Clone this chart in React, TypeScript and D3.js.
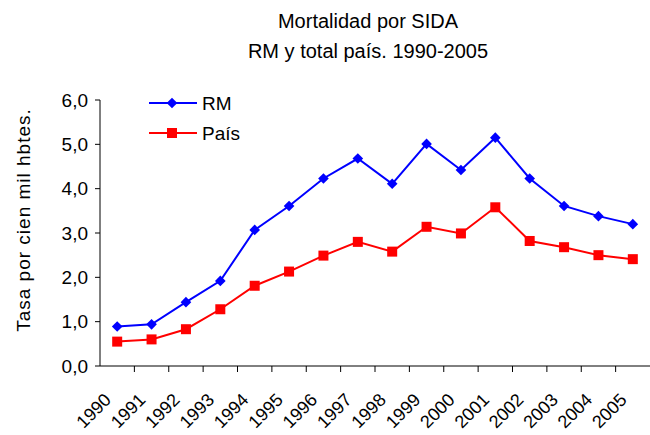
import * as d3 from "d3";
import React from "react";

const years = ["1990", "1991", "1992", "1993", "1994", "1995", "1996", "1997", "1998", "1999", "2000", "2001", "2002", "2003", "2004", "2005"]
const rm = [0.89, 0.94, 1.44, 1.92, 3.07, 3.61, 4.23, 4.68, 4.11, 5.01, 4.42, 5.15, 4.23, 3.61, 3.38, 3.2]
const pais = [0.55, 0.6, 0.83, 1.28, 1.81, 2.13, 2.49, 2.8, 2.58, 3.14, 2.99, 3.58, 2.82, 2.68, 2.5, 2.41]
const yTicks = [0, 1, 2, 3, 4, 5, 6]

const W = 650
const H = 435
const font = "'Liberation Sans', Arial, sans-serif"

export function App() {
  const x = d3.scaleBand().domain(years).range([100, 650])
  const y = d3.scaleLinear().domain([0, 6]).range([366, 100])
  const cx = (yr: string) => (x(yr) as number) + x.bandwidth() / 2

  const line = d3.line<number>()
    .x((d, i) => cx(years[i]))
    .y(d => y(d))

  const fmt = (v: number) => d3.format(".1f")(v).replace(".", ",")
  const diamond = d3.symbol().type(d3.symbolDiamond2).size(72)()

  return (
    <svg width={W} height={H} style={{ position: "absolute", left: 0, top: 0, background: "#fff", fontFamily: font }}>
      <text x={368} y={28} textAnchor="middle" fontSize={20}>Mortalidad por SIDA</text>
      <text x={368} y={58} textAnchor="middle" fontSize={20}>RM y total país. 1990-2005</text>

      <text transform={`translate(30, 220) rotate(-90)`} textAnchor="middle" fontSize={19} letterSpacing={1}>Tasa por cien mil hbtes.</text>

      <line x1={100} x2={100} y1={y(6)} y2={y(0)} stroke="#000" />
      {yTicks.map(t => (
        <g key={t}>
          <line x1={95} x2={100} y1={y(t)} y2={y(t)} stroke="#000" />
          <text x={88} y={y(t)} dy="0.35em" textAnchor="end" fontSize={19}>{fmt(t)}</text>
        </g>
      ))}

      <line x1={100} x2={650} y1={y(0)} y2={y(0)} stroke="#000" />
      {years.map((yr, i) => (
        <g key={yr}>
          {i > 0 && <line x1={x(yr)} x2={x(yr)} y1={y(0)} y2={y(0) + 6} stroke="#000" />}
          <text transform={`translate(${cx(yr) - 5}, 401) rotate(-45)`} textAnchor="end" fontSize={18}>{yr}</text>
        </g>
      ))}

      <path d={line(pais) || ""} fill="none" stroke="#ff0000" strokeWidth={2} />
      {pais.map((v, i) => (
        <rect key={i} x={cx(years[i]) - 5} y={y(v) - 5} width={10} height={10} fill="#ff0000" />
      ))}
      <path d={line(rm) || ""} fill="none" stroke="#0000ff" strokeWidth={2} />
      {rm.map((v, i) => (
        <path key={i} d={diamond || ""} transform={`translate(${cx(years[i])}, ${y(v)})`} fill="#0000ff" />
      ))}

      <line x1={149} x2={197} y1={103} y2={103} stroke="#0000ff" strokeWidth={2} />
      <path d={diamond || ""} transform="translate(172, 103)" fill="#0000ff" />
      <text x={202} y={103} dy="0.35em" fontSize={19}>RM</text>
      <line x1={149} x2={197} y1={133} y2={133} stroke="#ff0000" strokeWidth={2} />
      <rect x={167} y={128} width={10} height={10} fill="#ff0000" />
      <text x={202} y={133} dy="0.35em" fontSize={19}>País</text>
    </svg>
  );
}

export default App;
